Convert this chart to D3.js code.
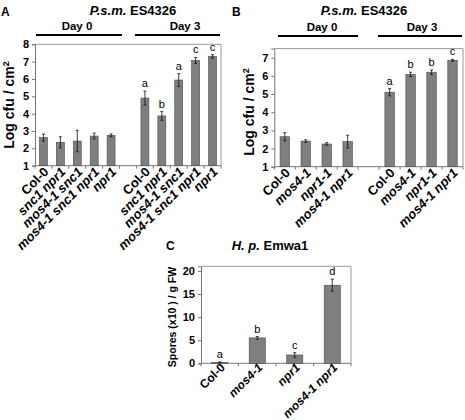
<!DOCTYPE html>
<html><head><meta charset="utf-8">
<script src="https://cdn.jsdelivr.net/npm/d3@7/dist/d3.min.js"></script>
<style>body{margin:0;background:#fff}svg{display:block;font-family:"Liberation Sans",Arial,sans-serif}</style>
</head><body><svg id="c" width="465" height="420"></svg>
<script>
// Panel A
const catsA = ["Col-0","snc1 npr1","mos4-1 snc1","mos4-1 snc1 npr1","npr1","","Col-0","snc1 npr1","mos4-1 snc1","mos4-1 snc1 npr1","npr1"];
const valsA = [2.62,2.35,2.42,2.71,2.75,null,4.9,3.87,5.94,7.07,7.3];
const errA  = [0.2,0.32,0.62,0.17,0.08,null,0.4,0.25,0.37,0.17,0.1];
const letA  = ["","","","","","","a","b","a","c","c"];
const ticksA = [1,2,3,4,5,6,7,8];
// Panel B
const catsB = ["Col-0","mos4-1","npr1-1","mos4-1 npr1","","Col-0","mos4-1","npr1-1","mos4-1 npr1"];
const valsB = [2.65,2.41,2.25,2.38,null,5.1,6.08,6.2,6.86];
const errB  = [0.22,0.07,0.07,0.35,null,0.2,0.12,0.12,0.05];
const letB  = ["","","","","","a","b","b","c"];
const ticksB = [1,2,3,4,5,6,7];
// Panel C
const catsC = ["Col-0","mos4-1","npr1","mos4-1 npr1"];
const valsC = [0.2,5.5,1.8,16.9];
const errC  = [0.1,0.3,0.5,1.3];
const letC  = ["a","b","c","d"];
const ticksC = [0,5,10,15,20];

const svg = d3.select("#c");

function label(sel, txt){
  if (txt === "Col-0") sel.text(txt);
  else sel.attr("font-style","italic").text(txt);
}

function panel(o){
  const g = svg.append("g");
  const x = d3.scaleBand().domain(d3.range(o.cats.length)).range([o.x0,o.x1]);
  const y = d3.scaleLinear().domain(o.dom).range([o.y0,o.y1]);
  g.append("path").attr("d",`M${o.x0},${y(o.dom[1])}H${o.x1}V${o.y0}`)
    .attr("fill","none").attr("stroke","#999").attr("stroke-width",1);
  const ya = g.append("g").attr("transform",`translate(${o.x0},0)`)
    .call(d3.axisLeft(y).tickValues(o.ticks).tickFormat(d3.format("d")).tickSize(3).tickPadding(3));
  ya.select(".domain").attr("stroke","#777");
  ya.selectAll("line").attr("stroke","#777");
  ya.selectAll("text").attr("font-size",o.tfs).attr("font-weight","bold").attr("fill","#000")
    .attr("font-family","Liberation Sans, Arial, sans-serif");
  const xa = g.append("g").attr("transform",`translate(0,${o.y0})`);
  xa.append("line").attr("x1",o.x0).attr("x2",o.x1).attr("stroke","#777");
  xa.selectAll(".tk").data(d3.range(o.cats.length+1)).join("line")
    .attr("x1",i=>o.x0+i*x.step()).attr("x2",i=>o.x0+i*x.step())
    .attr("y1",0).attr("y2",3).attr("stroke","#777");
  const bw = x.bandwidth()*o.bf;
  o.vals.forEach((v,i)=>{
    if (v==null) return;
    const cx = x(i)+x.bandwidth()/2;
    g.append("rect").attr("x",cx-bw/2).attr("width",bw).attr("y",y(v)).attr("height",o.y0-y(v))
      .attr("fill","#7f7f7f").attr("stroke","#4a4a4a").attr("stroke-width",0.6);
    const e = o.err[i];
    const lo = y(Math.max(o.dom[0],v-e)), hi = y(v+e);
    g.append("path").attr("d",`M${cx},${hi}V${lo}M${cx-1.5},${hi}H${cx+1.5}M${cx-1.5},${lo}H${cx+1.5}`)
      .attr("stroke","#111").attr("stroke-width",0.8).attr("fill","none");
    if (o.lets[i]) g.append("text").attr("x",cx).attr("y",hi-4).attr("text-anchor","middle")
      .attr("font-size",11).attr("fill","#000").text(o.lets[i]);
    g.append("text").attr("transform",`translate(${cx+o.lx},${o.y0+o.ly}) rotate(-45)`)
      .attr("text-anchor","end").attr("font-size",o.lfs).attr("font-weight","bold").call(label,o.cats[i]);
  });
  return {x,y};
}

panel({cats:catsA,vals:valsA,err:errA,lets:letA,ticks:ticksA,dom:[1,8],x0:35,x1:221,y0:165.7,y1:44.3,bf:0.47,tfs:11,lfs:13,lx:6,ly:7});
panel({cats:catsB,vals:valsB,err:errB,lets:letB,ticks:ticksB,dom:[1,7.5],x0:274.3,x1:463,y0:166.7,y1:48.6,bf:0.45,tfs:11,lfs:13,lx:6,ly:7});
panel({cats:catsC,vals:valsC,err:errC,lets:letC,ticks:ticksC,dom:[0,21],x0:201,x1:351,y0:363.3,y1:266.3,bf:0.43,tfs:11,lfs:12,lx:6,ly:5});

function txt(x,y,t,fs,opt={}){
  const s = svg.append("text").attr("x",x).attr("y",y).attr("font-size",fs).attr("font-weight","bold")
    .attr("text-anchor",opt.anchor||"middle");
  if (opt.rot) s.attr("transform",`rotate(${opt.rot},${x},${y})`);
  return s;
}
txt(1,16,"A",12,{anchor:"start"}).text("A");
txt(232,16,"B",12,{anchor:"start"}).text("B");
txt(166,250,"C",12,{anchor:"start"}).text("C");
let t = txt(133,15,"",13); t.append("tspan").attr("font-style","italic").text("P.s.m."); t.append("tspan").text(" ES4326");
t = txt(364,15,"",13); t.append("tspan").attr("font-style","italic").text("P.s.m."); t.append("tspan").text(" ES4326");
t = txt(270,250,"",13); t.append("tspan").attr("font-style","italic").text("H. p."); t.append("tspan").text(" Emwa1");
const days = [[77,36,122,"Day 0"],[185,135,220,"Day 3"],[322,278,358,"Day 0"],[422,378,462,"Day 3"]];
const dayY = [35,35,36,36];
days.forEach((d,i)=>{
  txt(d[0],dayY[i]-5,"",11.5).text(d[3]);
  svg.append("line").attr("x1",d[1]).attr("x2",d[2]).attr("y1",dayY[i]).attr("y2",dayY[i]).attr("stroke","#000").attr("stroke-width",2.2);
});
t = txt(14,105,"",14,{rot:-90}); t.append("tspan").text("Log cfu / cm"); t.append("tspan").attr("font-size",9).attr("dy",-5).text("2");
t = txt(254,112,"",14,{rot:-90}); t.append("tspan").text("Log cfu / cm"); t.append("tspan").attr("font-size",9).attr("dy",-5).text("2");
txt(176,317,"",10.5,{rot:-90}).text("Spores (x10  ) / g FW");
</script></body></html>
